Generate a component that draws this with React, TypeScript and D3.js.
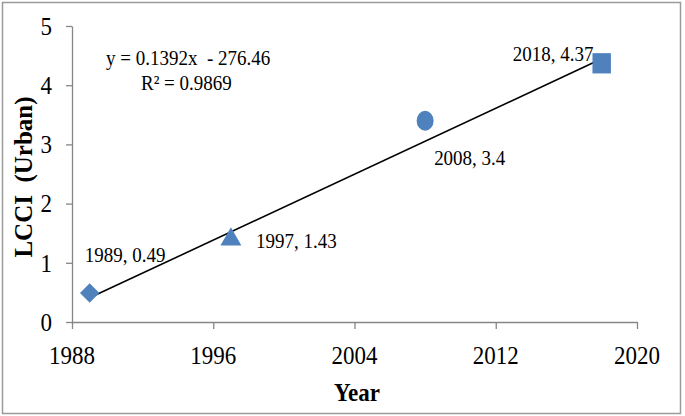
import { useEffect, useRef } from 'react';
import * as d3 from 'd3';

const years = [1989, 1997, 2008, 2018];
const lcci = [0.49, 1.43, 3.4, 4.37];
const shapes = ['diamond', 'triangle', 'circle', 'square'];
const xTicks = [1988, 1996, 2004, 2012, 2020];
const yTicks = [0, 1, 2, 3, 4, 5];
const slope = 0.1392;
const intercept = -276.46;
const equationLines = ['y = 0.1392x  - 276.46', 'R² = 0.9869'];

const W = 685;
const H = 416;
const FONT = '"Liberation Serif", "Times New Roman", serif';
const BLUE = '#4f81bd';
const AXIS = '#868686';
const SY = 1.1; // text in the original is a bit stretched vertically

export default function App() {
  const ref = useRef<SVGSVGElement | null>(null);

  useEffect(() => {
    const svg = d3.select(ref.current);
    svg.selectAll('*').remove();

    const x = d3.scaleLinear().domain([1988, 2020]).range([72, 637]);
    const y = d3.scaleLinear().domain([0, 5]).range([322, 26]);

    const addText = (
      tx: number,
      ty: number,
      str: string,
      size: number,
      opts: { anchor?: string; bold?: boolean; rotate?: boolean } = {},
    ) =>
      svg
        .append('text')
        .attr(
          'transform',
          opts.rotate
            ? `translate(${tx},${ty}) rotate(-90)`
            : `translate(${tx},${ty}) scale(1,${SY})`,
        )
        .attr('dy', '0.35em')
        .attr('text-anchor', opts.anchor || 'start')
        .style('white-space', 'pre')
        .style('font-family', FONT)
        .style('font-size', `${size}px`)
        .style('font-weight', opts.bold ? 'bold' : 'normal')
        .text(str);

    // frame
    svg
      .append('rect')
      .attr('x', 2.5)
      .attr('y', 2.5)
      .attr('width', 678)
      .attr('height', 411)
      .attr('fill', '#fff')
      .attr('stroke', '#9a9a9a')
      .attr('stroke-width', 1.5);

    // axes
    const gx = svg
      .append('g')
      .attr('transform', `translate(0,${y(0)})`)
      .call(d3.axisBottom(x).tickValues(xTicks).tickFormat(d3.format('d')).tickSize(7).tickSizeOuter(0));
    const gy = svg
      .append('g')
      .attr('transform', `translate(${x(1988)},0)`)
      .call(d3.axisLeft(y).tickValues(yTicks).tickFormat(d3.format('d')).tickSize(6).tickSizeOuter(0));

    [gx, gy].forEach((g) => {
      g.select('.domain').attr('stroke', AXIS).attr('stroke-width', 1.3);
      g.selectAll('.tick line').attr('stroke', AXIS).attr('stroke-width', 1.3);
      g.selectAll('.tick text').remove();
    });
    xTicks.forEach((t) => addText(x(t), 355, String(t), 23, { anchor: 'middle' }));
    yTicks.forEach((t) => addText(x(1988) - 20, y(t), String(t), 23, { anchor: 'end' }));

    // trendline
    const trend = d3
      .line<number>()
      .x((d) => x(d))
      .y((d) => y(slope * d + intercept));
    svg
      .append('path')
      .datum([years[0], years[years.length - 1]])
      .attr('d', trend)
      .attr('stroke', '#000')
      .attr('stroke-width', 1.6)
      .attr('fill', 'none');

    // markers
    const sym: Record<string, d3.SymbolType> = {
      diamond: d3.symbolDiamond2,
      triangle: d3.symbolTriangle,
      square: d3.symbolSquare,
    };
    years.forEach((yr, i) => {
      const cx = x(yr);
      const cy = y(lcci[i]);
      if (shapes[i] === 'circle') {
        svg
          .append('ellipse')
          .attr('cx', cx)
          .attr('cy', cy)
          .attr('rx', 8.5)
          .attr('ry', 10)
          .attr('fill', BLUE);
      } else {
        const size = shapes[i] === 'square' ? 340 : shapes[i] === 'diamond' ? 240 : 190;
        svg
          .append('path')
          .attr('d', d3.symbol().type(sym[shapes[i]]).size(size)())
          .attr(
            'transform',
            `translate(${cx},${cy})${shapes[i] === 'triangle' ? ' translate(0,2)' : ''}${shapes[i] === 'square' ? ' scale(1,1.1)' : ''}`,
          )
          .attr('fill', BLUE);
      }
    });

    // data labels
    const labelOffsets = [
      [-5, -38],
      [25, 3],
      [9, 37],
      [-89, -10],
    ];
    years.forEach((yr, i) => {
      addText(x(yr) + labelOffsets[i][0], y(lcci[i]) + labelOffsets[i][1], `${yr}, ${lcci[i]}`, 19);
    });

    // equation
    addText(106, 58, equationLines[0], 19);
    addText(141, 83, equationLines[1], 19);

    // axis titles
    addText(357, 392, 'Year', 23, { anchor: 'middle', bold: true });
    addText(23, 177, 'LCCI  (Urban)', 25, { anchor: 'middle', bold: true, rotate: true });
  }, []);

  return (
    <svg
      ref={ref}
      width={W}
      height={H}
      style={{ position: 'absolute', left: 0, top: 0, display: 'block' }}
    />
  );
}
